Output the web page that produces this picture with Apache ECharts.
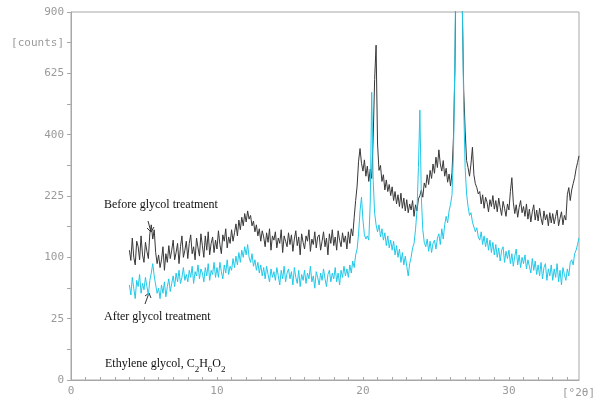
<!DOCTYPE html>
<html>
<head>
<meta charset="utf-8">
<script src="https://cdn.jsdelivr.net/npm/echarts@6/dist/echarts.min.js"></script>
<style>
html,body{margin:0;padding:0;background:#fff;}
#chart{width:598px;height:403px;}
</style>
</head>
<body>
<div id="chart"></div>
<script>
// 2-theta grid of the scan (degrees)
const START_ANGLE = 4.0;
const STEP_ANGLE = 0.1;

// Counts, one value per 0.1 deg from 4.0 to 34.8
const beforeCounts = [
  112, 95, 134, 100, 88, 128, 118, 96, 138, 104,
  92, 126, 110, 98, 142, 160, 132, 150, 108, 90,
  104, 84, 96, 118, 80, 106, 92, 120, 98, 112,
  130, 96, 108, 124, 90, 118, 138, 100, 112, 128,
  98, 124, 140, 106, 118, 96, 134, 116, 102, 142,
  120, 100, 138, 112, 146, 104, 124, 136, 108, 130,
  114, 148, 122, 106, 140, 128, 152, 116, 136, 124,
  150, 128, 144, 162, 138, 170, 150, 176, 158, 184,
  166, 190, 172, 180, 158, 168, 146, 160, 138, 152,
  128, 148, 136, 118, 144, 126, 152, 112, 138, 130,
  146, 116, 134, 124, 150, 108, 138, 128, 118, 144,
  122, 140, 110, 132, 148, 120, 136, 104, 142, 126,
  114, 138, 128, 150, 110, 132, 122, 146, 116, 136,
  140, 112, 128, 146, 118, 134, 104, 142, 124, 150,
  120, 136, 112, 148, 130, 118, 144, 126, 138, 114,
  146, 124, 152, 138, 176, 214, 250, 318, 356, 312,
  290, 322, 276, 304, 262, 296, 270, 390, 600, 745,
  370, 292, 306, 262, 280, 240, 266, 236, 254, 226,
  248, 214, 236, 206, 228, 200, 232, 196, 220, 190,
  216, 186, 206, 192, 214, 178, 204, 190, 218, 226,
  240, 222, 258, 246, 280, 254, 292, 270, 310, 284,
  330, 300, 352, 310, 290, 320, 276, 298, 260, 282,
  250, 286, 390, 640, 1300, 3000, 2600, 1400, 950, 560,
  415, 320, 300, 276, 310, 360, 280, 256, 246, 230,
  236, 206, 228, 196, 222, 210, 188, 216, 200, 226,
  194, 214, 188, 220, 198, 180, 212, 196, 178, 206,
  192, 236, 272, 210, 184, 204, 176, 198, 214, 186,
  200, 178, 206, 172, 194, 166, 188, 204, 170, 192,
  168, 196, 174, 160, 190, 170, 182, 158, 186, 164,
  184, 162, 178, 192, 158, 174, 188, 160, 180, 170,
  228, 246, 214, 240, 256, 272, 296, 314, 334
];

const afterCounts = [
  60, 48, 70, 56, 44, 66, 58, 74, 50, 62,
  54, 70, 58, 48, 66, 76, 90, 72, 60, 50,
  56, 44, 60, 50, 64, 46, 58, 68, 52, 62,
  72, 58, 76, 64, 80, 62, 70, 84, 66, 74,
  64, 80, 70, 86, 62, 78, 72, 88, 68, 82,
  76, 64, 84, 72, 90, 66, 80, 74, 92, 70,
  84, 70, 92, 78, 68, 88, 76, 96, 74, 86,
  80, 98, 84, 102, 88, 108, 92, 112, 100, 118,
  104, 122, 100, 92, 106, 86, 96, 80, 92, 76,
  88, 72, 84, 68, 86, 74, 64, 82, 70, 78,
  66, 84, 72, 60, 80, 68, 86, 64, 76, 82,
  68, 78, 60, 84, 70, 62, 80, 58, 74, 66,
  80, 62, 76, 68, 86, 64, 72, 56, 78, 70,
  60, 76, 66, 82, 68, 58, 74, 80, 64, 76,
  68, 84, 64, 76, 60, 80, 70, 86, 72, 82,
  70, 88, 76, 94, 84, 104, 114, 142, 190, 222,
  170, 140, 132, 138, 130, 210, 550, 265, 185, 160,
  146, 160, 136, 152, 130, 144, 120, 138, 116, 130,
  112, 128, 104, 120, 100, 114, 92, 108, 88, 102,
  86, 72, 90, 100, 116, 124, 150, 190, 300, 484,
  220, 150, 126, 118, 132, 110, 128, 108, 124, 130,
  114, 134, 142, 122, 152, 132, 160, 178, 164, 190,
  205, 228, 340, 700, 1500, 3000, 2800, 1500, 1000, 500,
  300, 230, 200, 180, 186, 166, 164, 146, 154, 136,
  130, 146, 122, 138, 118, 134, 112, 130, 108, 126,
  104, 122, 100, 116, 94, 112, 118, 92, 110, 98,
  112, 90, 106, 86, 102, 114, 88, 104, 84, 100,
  90, 104, 82, 96, 86, 76, 98, 80, 94, 74,
  88, 72, 92, 68, 84, 90, 66, 82, 72, 88,
  66, 82, 70, 90, 64, 80, 60, 84, 74, 66,
  82, 72, 92, 96, 88, 106, 112, 122, 134
];

// Axis ticks (counts shown on a square-root scale)
const yTickCounts = [0, 25, 100, 225, 400, 625, 900];
const xTickLabels = [0, 10, 20, 30];
const X_MAX = 34.8;

function toPoints(counts) {
  return counts.map((c, i) => [+(START_ANGLE + i * STEP_ANGLE).toFixed(2), Math.sqrt(c)]);
}

const axisGray = '#a8a8a8';
const labelGray = '#9a9a9a';
const monoFont = 'DejaVu Sans Mono';

const chart = echarts.init(document.getElementById('chart'), null, {renderer: 'canvas'});
chart.setOption({
  animation: false,
  backgroundColor: '#fff',
  grid: {left: 71, right: 19, top: 12, bottom: 23, show: true, borderColor: axisGray, borderWidth: 1,
         containLabel: false, outerBoundsMode: 'none'},
  xAxis: {
    type: 'value', min: 0, max: X_MAX, interval: 1,
    axisLine: {lineStyle: {color: axisGray}},
    axisTick: {inside: true, length: 3, lineStyle: {color: axisGray}},
    splitLine: {show: false},
    axisLabel: {
      color: labelGray, fontFamily: monoFont, fontSize: 11, margin: 6,
      showMaxLabel: false,
      formatter: v => xTickLabels.indexOf(Math.round(v * 1000) / 1000) >= 0 ? String(v) : ''
    },
    name: '[°2θ]', nameLocation: 'end', nameGap: -17,
    nameTextStyle: {color: labelGray, fontFamily: monoFont, fontSize: 11, verticalAlign: 'top', padding: [8, 0, 0, 0]}
  },
  yAxis: {
    type: 'value', min: 0, max: 30, interval: 2.5,
    axisLine: {show: true, lineStyle: {color: axisGray}},
    axisTick: {show: true, length: 4, lineStyle: {color: axisGray}},
    splitLine: {show: false},
    axisLabel: {
      color: labelGray, fontFamily: monoFont, fontSize: 11, margin: 7,
      formatter: v => {
        const c = Math.round(v * v * 100) / 100;
        if (yTickCounts.indexOf(c) >= 0) return String(c);
        if (Math.abs(v - 27.5) < 1e-6) return '[counts]';
        return '';
      }
    }
  },
  series: [
    {
      name: 'Before glycol treatment', type: 'line', data: toPoints(beforeCounts),
      showSymbol: false, clip: true,
      lineStyle: {color: '#383838', width: 1}
    },
    {
      name: 'After glycol treatment', type: 'line', data: toPoints(afterCounts),
      showSymbol: false, clip: true,
      lineStyle: {color: '#22c8e8', width: 1}
    }
  ],
  graphic: [
    {type: 'text', left: 104, top: 199, style: {text: 'Before glycol treatment', font: '12px "Liberation Serif"', fill: '#111'}},
    {type: 'text', left: 104, top: 311, style: {text: 'After glycol treatment', font: '12px "Liberation Serif"', fill: '#111'}},
    {type: 'text', left: 105, top: 358, style: {
      text: '{n|Ethylene glycol, C}{s|2}{n|H}{s|6}{n|O}{s|2}',
      rich: {
        n: {fontFamily: 'Liberation Serif', fontSize: 12, lineHeight: 14, verticalAlign: 'top', fill: '#111'},
        s: {fontFamily: 'Liberation Serif', fontSize: 9, lineHeight: 10, padding: [7, 0, 0, 0], verticalAlign: 'top', fill: '#111'}
      }
    }},
    {type: 'polyline', shape: {points: [[148, 221], [151, 232]]}, style: {stroke: '#333', lineWidth: 1, fill: null}},
    {type: 'polyline', shape: {points: [[147, 228], [151, 232], [154, 227]]}, style: {stroke: '#333', lineWidth: 1, fill: null}},
    {type: 'polyline', shape: {points: [[145, 304], [149, 293]]}, style: {stroke: '#333', lineWidth: 1, fill: null}},
    {type: 'polyline', shape: {points: [[145, 296], [149, 293], [151, 298]]}, style: {stroke: '#333', lineWidth: 1, fill: null}}
  ]
});
</script>
</body>
</html>
